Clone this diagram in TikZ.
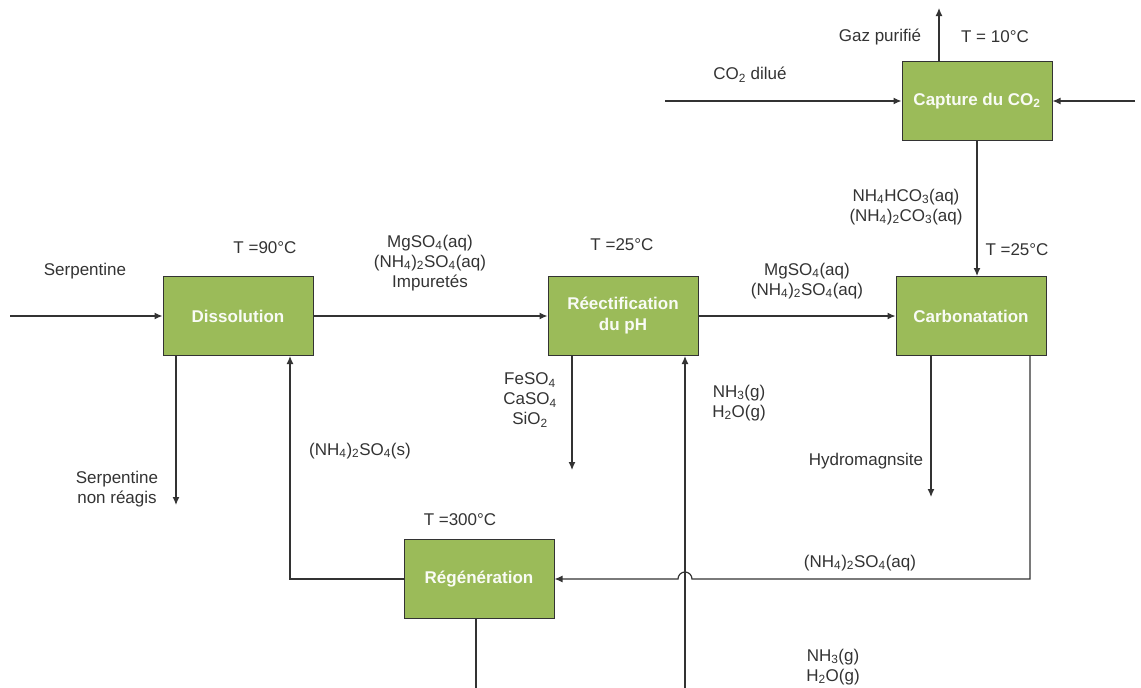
\documentclass[tikz,border=0pt]{standalone}
\usepackage{fontspec}
\setmainfont{Liberation Sans}
\usepackage{xcolor}
\usetikzlibrary{positioning, arrows.meta, calc}

\definecolor{boxgreen}{HTML}{9BBB59}
\definecolor{ink}{HTML}{333333}
\newcommand{\low}[1]{\textsubscript{#1}}

\begin{document}
\begin{tikzpicture}[
  x=1pt, y=-1pt,
  font=\fontsize{17}{20}\selectfont, text=ink,
  unit/.style={
    rectangle, draw=ink, line width=1pt,
    minimum width=150pt, minimum height=79pt,
    align=center, fill=boxgreen, text=white!94!boxgreen,
    font=\fontsize{17}{21}\selectfont\bfseries,
  },
  flow/.style={-{Latex[length=8pt,width=7pt]}, line width=1.2pt, ink},
  line/.style={line width=1.2pt, ink},
  tag/.style={align=center, inner sep=0pt},
]
\useasboundingbox (0,0) rectangle (1141,688);

% process units
\node[unit] (capt)  at (977,101) {Capture du CO\low{2}};
\node[unit] (diss)  at (238,316) {Dissolution};
\node[unit] (rect)  at (623,316) {Réectification\\du pH};
\node[unit] (carb)  at (971,316) {Carbonatation};
\node[unit] (regen) at (479,579) {Régénération};

% free ends of the streams
\coordinate (serpIn)   at (10,316);
\coordinate (co2In)    at (665,101);
\coordinate (solvIn)   at (1135,101);
\coordinate (gazOut)   at (939,8);
\coordinate (residOut) at (176,505);
\coordinate (impOut)   at (572,470);
\coordinate (hydroOut) at (931,497);
\coordinate (nh3In)    at (685,688);
\coordinate (regenOut) at (476,688);

% streams
\draw[flow] (serpIn) -- (diss);
\draw[flow] (diss) -- (rect);
\draw[flow] (rect) -- (carb);
\draw[flow] (co2In) -- (capt.west);
\draw[flow] (solvIn) -- (capt.east);
\draw[flow] (capt.north -| gazOut) -- (gazOut);
\draw[flow] (capt.south) -- (capt.south |- carb.north);
\draw[flow] (diss.south -| residOut) -- (residOut);
\draw[flow] (regen.west) -| ([xshift=52pt]diss.south);
\draw[flow] (rect.south -| impOut) -- (impOut);
\draw[flow] (nh3In) -- (nh3In |- rect.south);
\draw[flow] (carb.south -| hydroOut) -- (hydroOut);
\draw[line] (regen.south -| regenOut) -- (regenOut);
% recycle line hops over the NH3 feed
\draw[flow] ([xshift=59pt]carb.south) |- ($(nh3In |- regen.east)+(7,0)$)
  arc[start angle=0, end angle=180, radius=7pt] -- (regen.east);

% stream labels
\node[tag] (lGaz)   at (880,37)  {Gaz purifié};
\node[tag] (lT10)   at (995,37)  {T = 10°C};
\node[tag] (lCo2)   at (750,75)  {CO\low{2} dilué};
\node[tag] (lCarbo) at (906,207) {NH\low{4}HCO\low{3}(aq)\\(NH\low{4})\low{2}CO\low{3}(aq)};
\node[tag] (lT25b)  at (1017,250) {T =25°C};
\node[tag] (lT90)   at (265,248) {T =90°C};
\node[tag] (lLiq1)  at (430,263) {MgSO\low{4}(aq)\\(NH\low{4})\low{2}SO\low{4}(aq)\\Impuretés};
\node[tag] (lSerp)  at (85,271)  {Serpentine};
\node[tag] (lT25a)  at (622,245) {T =25°C};
\node[tag] (lLiq2)  at (807,281) {MgSO\low{4}(aq)\\(NH\low{4})\low{2}SO\low{4}(aq)};
\node[tag] (lImp)   at (530,400) {FeSO\low{4}\\CaSO\low{4}\\SiO\low{2}};
\node[tag] (lNh3a)  at (739,403) {NH\low{3}(g)\\H\low{2}O(g)};
\node[tag] (lSulf)  at (360,451) {(NH\low{4})\low{2}SO\low{4}(s)};
\node[tag] (lResid) at (117,489) {Serpentine\\non réagis};
\node[tag] (lHydro) at (866,461) {Hydromagnsite};
\node[tag] (lT300)  at (460,520) {T =300°C};
\node[tag] (lSulfq) at (860,563) {(NH\low{4})\low{2}SO\low{4}(aq)};
\node[tag] (lNh3b)  at (833,667) {NH\low{3}(g)\\H\low{2}O(g)};
\end{tikzpicture}
\end{document}
